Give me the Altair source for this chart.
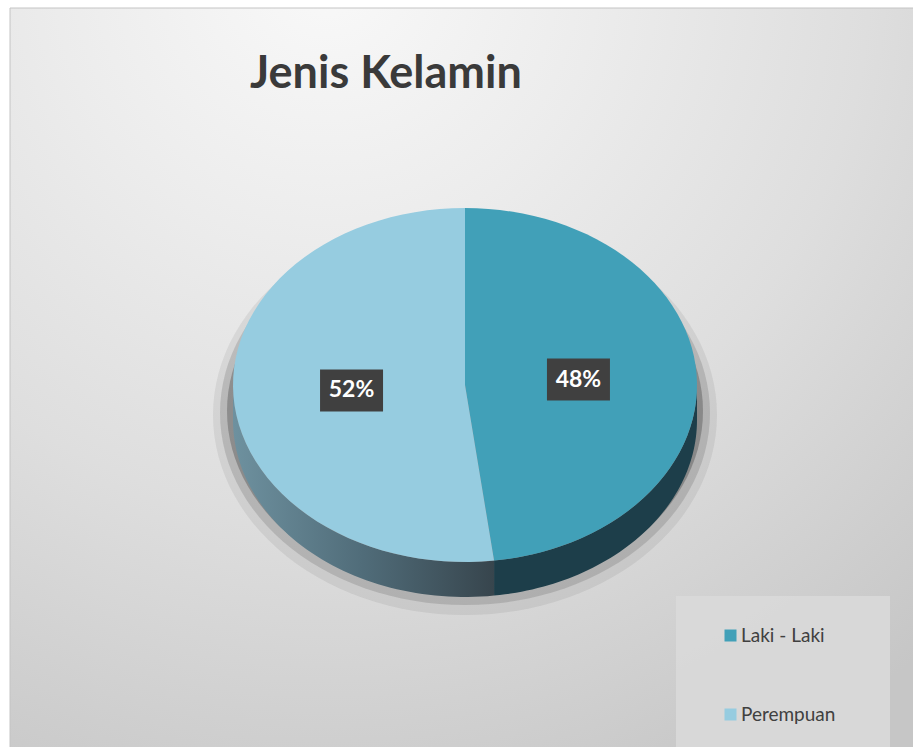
import altair as alt
import pandas as pd

# ---- data ----
title_text = "Jenis Kelamin"
categories = ["Laki - Laki", "Perempuan"]
values = [48, 52]
pct_labels = ["48%", "52%"]
top_colors = ["#41a0b8", "#96cce0"]

# ---- layout (pixels) ----
W, H = 913, 747
CX, CY = 465, 385     # centre of the pie top face
RX, RY = 232, 177     # ellipse radii of the top face
D = 35                # thickness of the 3D side
LBL = 0.49            # label radius factor

df = pd.DataFrame({"category": categories, "value": values,
                   "idx": list(range(len(categories))), "label": pct_labels})

xs = alt.Scale(domain=[-CX, W - CX], nice=False, zero=False)
ys = alt.Scale(domain=[CY - H, CY], nice=False, zero=False)
X = lambda f: alt.X(f, scale=xs, axis=None)
Y = lambda f: alt.Y(f, scale=ys, axis=None)


def slices(ch):
    return (ch.transform_joinaggregate(total="sum(value)")
              .transform_window(cum="sum(value)", sort=[alt.SortField("idx")], frame=[None, 0])
              .transform_calculate(a1="2*PI*datum.cum/datum.total",
                                   a0="2*PI*(datum.cum-datum.value)/datum.total"))


# background
bg = alt.Chart(pd.DataFrame({"a": [0]})).mark_rect(
    color=alt.RadialGradient(gradient="radial", x1=0.35, y1=0.05, r1=0, x2=0.35, y2=0.05, r2=1.0,
                             stops=[alt.GradientStop(color="#f9f9f9", offset=0),
                                    alt.GradientStop(color="#ececec", offset=0.3),
                                    alt.GradientStop(color="#dedede", offset=0.6),
                                    alt.GradientStop(color="#c6c6c6", offset=1)]),
    stroke="#c4c4c4", strokeWidth=1
).encode(x=alt.value(10), x2=alt.value(W + 2), y=alt.value(8), y2=alt.value(H + 2))

# soft shadow under the pie
shadow_layers = []
for srx, sry, dy, op in [(238, 184, 26, 0.30), (245, 192, 28, 0.16), (252, 200, 30, 0.08)]:
    shadow_layers.append(
        alt.Chart(alt.sequence(0, 121, as_="k")).transform_calculate(
            px=f"{srx}*sin(2*PI*datum.k/120)",
            py=f"{sry}*cos(2*PI*datum.k/120) - {dy}"
        ).mark_line(interpolate="linear-closed", fill="#2a2a2a", fillOpacity=op, strokeOpacity=0)
        .encode(x=X("px:Q"), y=Y("py:Q"), order="k:Q")
    )

# 3D side of the pie (front half only)
side_base = (slices(alt.Chart(df))
             .transform_calculate(s0="max(datum.a0, PI/2)", s1="min(datum.a1, 3*PI/2)")
             .transform_filter("datum.s0 < datum.s1")
             .transform_calculate(k="sequence(0, 122)")
             .transform_flatten(["k"])
             .transform_calculate(
                 ang="datum.k <= 60 ? datum.s0 + (datum.s1-datum.s0)*datum.k/60 "
                     ": datum.s1 - (datum.s1-datum.s0)*(datum.k-61)/60",
                 px=f"{RX}*sin(datum.ang)",
                 py=f"{RY}*cos(datum.ang) - (datum.k <= 60 ? 0 : {D})"))

side_laki = side_base.transform_filter(alt.datum.category == categories[0]).mark_line(
    interpolate="linear-closed", fill="#1d3e4a", strokeOpacity=0
).encode(x=X("px:Q"), y=Y("py:Q"), order="k:Q")

side_per = side_base.transform_filter(alt.datum.category == categories[1]).mark_line(
    interpolate="linear-closed", strokeOpacity=0,
    fill=alt.LinearGradient(gradient="linear", x1=0, x2=1, y1=0, y2=0,
                            stops=[alt.GradientStop(color="#6e919f", offset=0),
                                   alt.GradientStop(color="#506c79", offset=0.5),
                                   alt.GradientStop(color="#37454d", offset=1)])
).encode(x=X("px:Q"), y=Y("py:Q"), order="k:Q")

# top face
top = (slices(alt.Chart(df))
       .transform_calculate(k="sequence(0, 62)")
       .transform_flatten(["k"])
       .transform_calculate(
           ang="datum.a0 + (datum.a1-datum.a0)*max(datum.k-1, 0)/60",
           px=f"datum.k == 0 ? 0 : {RX}*sin(datum.ang)",
           py=f"datum.k == 0 ? 0 : {RY}*cos(datum.ang)")
       .mark_line(interpolate="linear-closed", strokeOpacity=0)
       .encode(
           x=X("px:Q"), y=Y("py:Q"), order="k:Q", detail="category:N",
           fill=alt.Fill("category:N",
                         scale=alt.Scale(domain=categories, range=top_colors),
                         legend=alt.Legend(title=None, orient="none", legendX=721, legendY=626,
                                           symbolType="square", symbolSize=144,
                                           symbolStrokeWidth=0, labelFontSize=19,
                                           labelFont="Lato", labelColor="#404040",
                                           rowPadding=59, padding=0, labelOffset=1)))
       )

# data labels
lbl_base = (slices(alt.Chart(df))
            .transform_calculate(mid="(datum.a0+datum.a1)/2")
            .transform_calculate(px=f"{LBL*RX}*sin(datum.mid)", py=f"{LBL*RY}*cos(datum.mid)"))

lbl_box = lbl_base.mark_point(
    shape="M-1.5,-1L1.5,-1L1.5,1L-1.5,1Z", size=1764, filled=True, color="#404040", opacity=1
).encode(x=X("px:Q"), y=Y("py:Q"))

lbl_txt = lbl_base.mark_text(
    font="Lato", fontSize=23, fontWeight="bold", color="#ffffff", baseline="middle", align="center"
).encode(x=X("px:Q"), y=Y("py:Q"), text="label:N")

# legend background panel
leg_box = alt.Chart(pd.DataFrame({"a": [0]})).mark_rect(color="#d9d9d9", opacity=0.9).encode(
    x=alt.value(676), x2=alt.value(890), y=alt.value(596), y2=alt.value(H + 2))

# title
title = alt.Chart(pd.DataFrame({"t": [title_text]})).mark_text(
    font="Lato", fontSize=45, fontWeight="bold", color="#3a3a3a", align="left", baseline="alphabetic"
).encode(x=alt.value(250), y=alt.value(88), text="t:N")

chart = alt.layer(bg, *shadow_layers, side_laki, side_per, top, lbl_box, lbl_txt, leg_box, title).properties(
    width=W, height=H, padding=0, autosize=alt.AutoSizeParams(type="none"), background="#ffffff"
).configure_view(stroke=None)

chart.save("out.html", embed_options={"renderer": "svg", "actions": False})
